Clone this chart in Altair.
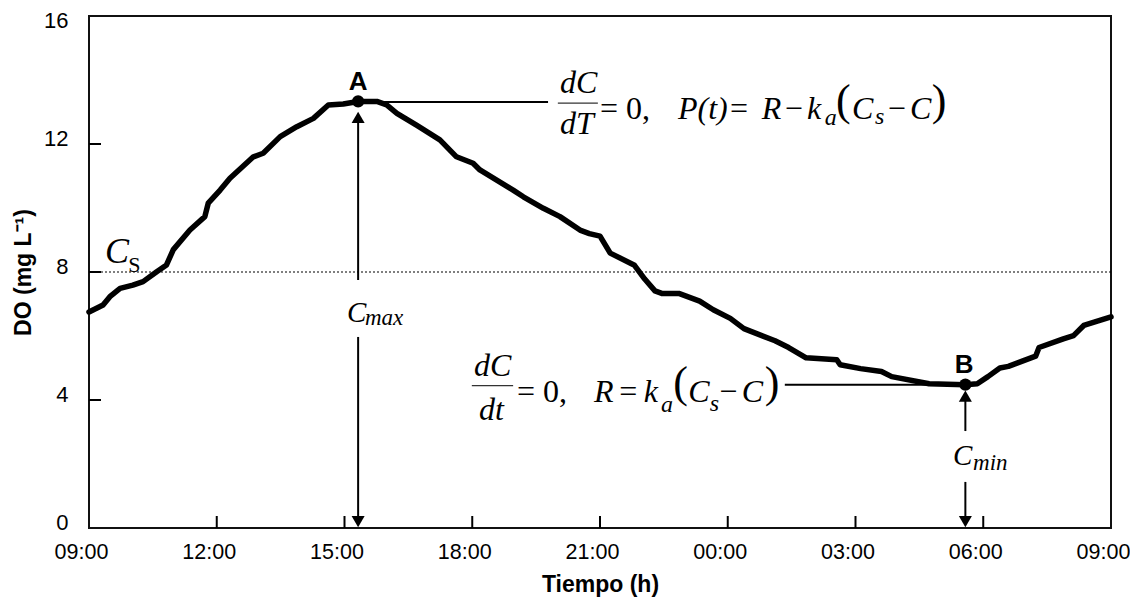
import altair as alt
import pandas as pd

# ---- data (hours after 09:00, DO in mg/L) ----
hours = [0, 0.33, 0.49, 0.73, 1.03, 1.27, 1.59, 1.82, 1.98, 2.37, 2.72, 2.80, 3.08, 3.31,
         3.86, 4.09, 4.49, 4.88, 5.27, 5.62, 5.97, 6.32, 6.76, 6.99, 7.23, 7.69, 8.24, 8.63,
         9.02, 9.18, 9.96, 10.20, 10.67, 11.06, 11.53, 11.75, 12.0, 12.24, 12.81, 13.05,
         13.29, 13.45, 13.85, 14.34, 14.66, 15.06, 15.38, 16.11, 16.43, 16.84, 17.56, 17.64,
         18.12, 18.61, 18.85, 19.73, 20.58, 20.86, 21.11, 21.39, 21.59, 22.23, 22.31, 22.88,
         23.12, 23.36, 24.0]
do_vals = [6.75, 6.97, 7.23, 7.49, 7.59, 7.70, 8.01, 8.22, 8.70, 9.31, 9.73, 10.15, 10.56, 10.93,
           11.60, 11.71, 12.23, 12.54, 12.80, 13.22, 13.25, 13.33, 13.33, 13.22, 12.96, 12.59, 12.13, 11.60,
           11.40, 11.19, 10.56, 10.35, 9.99, 9.73, 9.31, 9.20, 9.12, 8.59, 8.21, 7.78,
           7.41, 7.33, 7.33, 7.09, 6.82, 6.55, 6.23, 5.85, 5.64, 5.32, 5.26, 5.10,
           4.98, 4.89, 4.73, 4.51, 4.48, 4.51, 4.73, 5.00, 5.05, 5.37, 5.64, 5.91,
           6.01, 6.33, 6.60]
x_tick_hours = [0, 3, 6, 9, 12, 15, 18, 21, 24]
x_tick_labels = ["09:00", "12:00", "15:00", "18:00", "21:00", "00:00", "03:00", "06:00", "09:00"]
y_ticks = [0, 4, 8, 12, 16]
cs_value = 8
peak_A = (6.32, 13.33)
min_B = (20.58, 4.48)

W, H = 1022, 512
xs = alt.Scale(domain=[0, 24], nice=False, zero=False)
ys = alt.Scale(domain=[0, 16], nice=False, zero=False)
SANS = "Liberation Sans"
SERIF = "Liberation Serif"

label_expr = "[" + ",".join("'%s'" % s for s in x_tick_labels) + "][round(datum.value/3)]"

x_axis = alt.Axis(
    values=x_tick_hours, labelExpr=label_expr, ticks=False, tickSize=0, domain=False,
    grid=False, labelFont=SANS, labelFontSize=21.5, labelColor="black", labelPadding=13,
    labelFlush=False, labelOverlap=False, labelOffset=-8, labelBound=False,
    titleFont=SANS, titleFontSize=23, titleFontWeight="bold", titleColor="black",
    titlePadding=11)
y_axis = alt.Axis(
    values=y_ticks, ticks=False, tickSize=0, domain=False, grid=False,
    labelFont=SANS, labelFontSize=22, labelColor="black", labelPadding=21,
    labelOffset={"condition": {"test": "datum.value >= 16", "value": 4}, "value": -6},
    labelBound=False,
    titleFont=SANS, titleFontSize=23, titleFontWeight="bold", titleColor="black",
    titlePadding=8)


def X(f="h"):
    return alt.X(f + ":Q", scale=xs, axis=x_axis, title="Tiempo (h)")


def Y(f="v"):
    return alt.Y(f + ":Q", scale=ys, axis=y_axis, title="DO (mg L⁻¹)")


curve = alt.Chart(pd.DataFrame({"h": hours, "v": do_vals})).mark_line(
    color="black", strokeWidth=5.5, strokeJoin="round", strokeCap="round"
).encode(x=X(), y=Y())

cs_line = alt.Chart(pd.DataFrame({"v": [cs_value]})).mark_rule(
    color="black", strokeWidth=1.2, strokeDash=[2, 2]).encode(y=Y())

ytick_layer = alt.Chart(pd.DataFrame({"v": y_ticks[1:-1]})).mark_rule(
    color="black", strokeWidth=2).encode(y=Y(), x=alt.value(0), x2=alt.value(12))
xtick_layer = alt.Chart(pd.DataFrame({"h": x_tick_hours[1:-1]})).mark_rule(
    color="black", strokeWidth=2).encode(x=X(), y=alt.value(H), y2=alt.value(H - 12))

# annotation lines (data units)
ann_lines = pd.DataFrame([
    (peak_A[0], 10.78, 13.31, 13.31),
    (16.34, min_B[0], 4.48, 4.48),
    (peak_A[0], peak_A[0], 7.75, 12.8),
    (peak_A[0], peak_A[0], 0.25, 5.97),
    (min_B[0], min_B[0], 3.03, 4.1),
    (min_B[0], min_B[0], 0.25, 1.44),
], columns=["h", "h2", "v", "v2"])
lines_layer = alt.Chart(ann_lines).mark_rule(color="black", strokeWidth=2).encode(
    x=X(), x2="h2:Q", y=Y(), y2="v2:Q")

frac_lines = pd.DataFrame([(11.01, 11.95, 13.28, 13.28), (8.99, 9.96, 4.45, 4.45)],
                          columns=["h", "h2", "v", "v2"])
frac_layer = alt.Chart(frac_lines).mark_rule(color="#333", strokeWidth=1.3).encode(
    x=X(), x2="h2:Q", y=Y(), y2="v2:Q")

tri_up = alt.Chart(pd.DataFrame({"h": [peak_A[0], min_B[0]], "v": [12.83, 4.12]})).mark_point(
    shape="triangle-up", filled=True, color="black", size=170, opacity=1).encode(x=X(), y=Y())
tri_down = alt.Chart(pd.DataFrame({"h": [peak_A[0], min_B[0]], "v": [0.2, 0.2]})).mark_point(
    shape="triangle-down", filled=True, color="black", size=170, opacity=1).encode(x=X(), y=Y())

dots = alt.Chart(pd.DataFrame({"h": [peak_A[0], min_B[0]], "v": [peak_A[1], min_B[1]]})).mark_point(
    shape="circle", filled=True, color="black", size=150, opacity=1).encode(x=X(), y=Y())


def text_layer(rows, **kw):
    df = pd.DataFrame(rows, columns=["t", "h", "v"])
    return alt.Chart(df).mark_text(color="black", baseline="alphabetic", **kw).encode(
        x=X(), y=Y(), text="t:N")


it_big = text_layer([
    ("dC", 11.06, 13.59), ("dT", 11.06, 12.31), ("P(t)", 13.83, 12.78), ("R", 15.80, 12.78),
    ("k", 16.86, 12.78), ("C", 17.92, 12.78), ("C", 19.28, 12.78),
    ("dC", 9.04, 4.75), ("dt", 9.16, 3.375), ("R", 11.86, 3.94), ("k", 13.03, 3.94),
    ("C", 14.07, 3.94), ("C", 15.33, 3.94),
], font=SERIF, fontStyle="italic", fontSize=32, align="left")
it_sub = text_layer([
    ("a", 17.28, 12.6), ("s", 18.46, 12.63), ("a", 13.43, 3.63), ("s", 14.58, 3.66),
], font=SERIF, fontStyle="italic", fontSize=24, align="left")
up_big = text_layer([
    ("= 0,", 12.0, 12.78), ("=", 15.05, 12.78), ("−", 16.34, 12.78), ("−", 18.76, 12.78),
    ("= 0,", 10.05, 3.94), ("=", 12.45, 3.94), ("−", 14.80, 3.94),
], font=SERIF, fontSize=32, align="left")
parens = text_layer([
    ("(", 17.54, 12.91), (")", 19.79, 12.91), ("(", 13.72, 4.1), (")", 15.87, 4.1),
], font=SERIF, fontSize=44, align="left")
c_main = text_layer([("C", 6.06, 6.44), ("C", 20.29, 1.97)],
                    font=SERIF, fontStyle="italic", fontSize=29, align="left")
c_sub = text_layer([("max", 6.48, 6.34), ("min", 20.76, 1.81)],
                   font=SERIF, fontStyle="italic", fontSize=23, align="left")
cs_c = text_layer([("C", 0.376, 8.28)], font=SERIF, fontStyle="italic", fontSize=36, align="left")
cs_s = text_layer([("S", 0.92, 8.0)], font=SERIF, fontSize=22, align="left")
ab = text_layer([("A", peak_A[0], 13.69), ("B", 20.55, 4.84)],
                font=SANS, fontWeight="bold", fontSize=26, align="center")

chart = alt.layer(
    curve, cs_line, ytick_layer, xtick_layer, lines_layer, frac_layer, tri_up, tri_down, dots,
    it_big, it_sub, up_big, parens, c_main, c_sub, cs_c, cs_s, ab
).properties(
    width=W, height=H,
    autosize=alt.AutoSizeParams(type="none"),
    padding={"left": 81, "top": 8, "right": 19, "bottom": 70},
    background="white",
).configure_view(stroke="#111", strokeWidth=2)

chart.save("out.html", embed_options={"renderer": "svg", "actions": False})
